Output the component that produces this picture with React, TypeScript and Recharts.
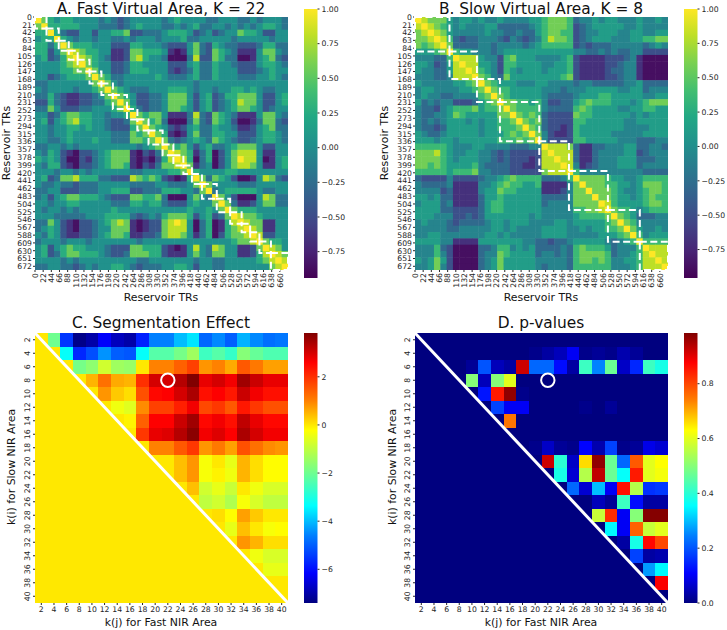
import React from "react";
import {
  ScatterChart, Scatter, XAxis, YAxis, ReferenceArea, ReferenceLine, ReferenceDot, ComposedChart, Line,
} from "recharts";

// ---------- tick labels ----------
const trTicksX22 = [0,22,44,66,88,110,132,154,176,198,220,242,264,286,308,330,352,374,396,418,440,462,484,506,528,550,572,594,616,638,660];
const trTicksY21 = [0,21,42,63,84,105,126,147,168,189,210,231,252,273,294,315,336,357,378,399,420,441,462,483,504,525,546,567,588,609,630,651,672];
const kTicks = [2,4,6,8,10,12,14,16,18,20,22,24,26,28,30,32,34,36,38,40];

// ---------- segment boundaries (TR) ----------
const fastBoundaries = [0,31,64,91,115,147,179,210,248,276,306,344,373,400,423,450,490,526,557,580,605,636,682];
const slowBoundaries = [0,93,167,229,335,415,520,606,682];

// ---------- correlation levels, upper triangle, each row starts on the diagonal ----------
const fastLevels = [-0.93,-0.85,-0.65,-0.42,-0.2,0.03,0.27,0.55,0.8,1.0];
const slowLevels = [-0.88,-0.68,-0.48,-0.28,-0.08,0.12,0.36,0.58,0.8,1.0];

const fastRows = [
"9765665555 4543455555 4565555445 5544545554",
"966666555 4443456555 4454564455 4545456654",
"96433553 5566733444 5666534534 5576653355",
"9654554 5544545554 5556445555 5455555455",
"976665 5533366555 4333574365 4433346644",
"98766 5522377666 5212574376 5422257754",
"9876 5422378655 4111483376 4411256743",
"976 5533466555 5333564465 5433356654",
"97 5533466655 5323464465 5533345655",
"9 7644555556 5444564465 5544455654",
"9754555555 5555545555 5555555555",
"976544455 5666545545 5665654455",
"97653344 5777535634 6677753356",
"9753344 5777535634 5687753356",
"964344 5776535634 5677653455",
"97677 5222484376 5422257754",
"9767 4111474376 5311247743",
"976 5323564465 5422356744",
"97 6212574466 5533356654",
"9 7434565476 5433456654",
"9767535644 5677753355",
"987624613 5788852255",
"98614613 5798851256",
"9724513 5788752256",
"965555 6655555555",
"97476 5311258743",
"9755 5544455555",
"945 6666654455",
"97 5311158744",
"9 7422357744",
"9766655555",
"987765555",
"98772255",
"9872255",
"983355",
"97665",
"9875",
"987",
"98",
"9",
];

const slowRows = [
"9877754554 5445444455 6777634454 5544454454",
"987654544 4553333345 6777623455 5554454444",
"98754444 4544334335 6776623445 5544554455",
"9863233 4443243234 6877623455 5444556677",
"973333 4434444345 6666623233 3444443454",
"96554 4434555555 5555544334 3433442222",
"9888 5442675554 4445621111 2223410000",
"988 5542665555 4455621111 2234410000",
"98 6542654555 4555621111 2334410000",
"9 7643755555 5556721111 2234410000",
"9765554445 5444434433 3334453333",
"976655555 4443444555 5544553444",
"97655555 4333345556 6555554455",
"9776656 4223356766 6555456777",
"976666 4333367655 5544556655",
"97676 3222276655 5555454555",
"9767 3222266555 5554455555",
"976 3221265555 5554444555",
"97 4211265555 5444445555",
"9 4222266555 5544433344",
"9888731133 4445533443",
"988831134 4445523444",
"98831134 4455533344",
"9841234 4455534444",
"964444 4444443333",
"97777 6554456666",
"9777 6655457776",
"977 7654456776",
"97 7655456766",
"9 8655556776",
"9766545666",
"976533344",
"97644444",
"9754454",
"964555",
"96666",
"9888",
"988",
"98",
"9",
];

// ---------- panel C: segmentation effect, rows k(i)=2,4,..; each row starts at k(j)=k(i) ----------
const effectRows = [
[0,-2,-5.5,-7.3,-7,-6.2,-6.8,-7,-5.8,-4.6,-4.6,-4,-3.6,-4.9,-4.5,-5,-4.1,-4.5,-4.8,-4.7],
[0,-3.3,-5.7,-5.2,-4.4,-5,-5.1,-3.3,-2.3,-2.3,-1.9,-1.4,-2.6,-2.3,-2.7,-1.7,-2.1,-2.4,-2.4],
[0,-1.9,-1.6,-0.8,-1.4,-1.5,0,1,1,1.4,1.8,0.8,1,0.6,1.5,1.1,0.7,0.7],
[0,0.5,1.2,0.6,0.5,2,3,3,3.3,3.8,2.8,3,2.7,3.5,3.1,2.8,2.8],
[0,0.8,0.3,0.1,1.6,2.5,2.6,3,3.4,2.4,2.6,2.3,3.1,2.7,2.4,2.4],
[0,-0.4,-0.6,0.9,1.8,1.8,2.2,2.7,1.7,1.9,1.5,2.3,1.9,1.6,1.6],
[0,-0.1,1.4,2.6,2.6,3.1,3.5,2.5,2.7,2.4,3.2,2.8,2.5,2.5],
[0,1.9,2.8,2.9,3.3,3.7,2.7,2.9,2.6,3.4,3,2.7,2.7],
[0,1,1,1.5,1.9,0.8,1.1,0.7,1.6,1.2,0.9,0.8],
[0,0,0.4,0.8,-0.3,0,-0.5,0.5,0.1,-0.2,-0.2],
[0,0.4,0.8,-0.3,-0.1,-0.4,0.5,0.1,-0.2,-0.2],
[0,0.4,-0.8,-0.5,-0.9,0,-0.4,-0.7,-0.7],
[0,-1,-0.8,-1.2,-0.3,-0.7,-1,-1],
[0,0.1,-0.2,0.7,0.3,0,0],
[0,-0.5,0.4,0,-0.3,-0.2],
[0,0.8,0.5,0.1,0.1],
[0,-0.4,-0.7,-0.7],
[0,-0.5,-0.5],
[0,0],
[0],
];

// ---------- panel D: p-values, same layout ----------
const pValueRows = [
[0,0,0,0,0,0,0,0,0,0,0,0,0,0,0,0,0,0,0,0],
[0,0,0,0,0,0,0,0,0.01,0.03,0.05,0.1,0.01,0.02,0.01,0.04,0.02,0,0],
[0,0,0.02,0.2,0.05,0.03,0.92,0.22,0.22,0.12,0.03,0.42,0.25,0.47,0.06,0.15,0.42,0.38],
[0,0.5,0.05,0.5,0.6,0,0,0,0,0,0,0,0,0,0,0,0],
[0,0.13,0.85,0.97,0.01,0,0,0,0,0,0,0,0,0,0,0],
[0,0.18,0.1,0.1,0,0,0,0,0.01,0,0.02,0,0,0,0],
[0,0.75,0,0,0,0,0,0,0,0,0,0,0,0],
[0,0,0,0,0,0,0,0,0,0,0,0,0],
[0,0.01,0.06,0.02,0.01,0.11,0.04,0.18,0.01,0.02,0.09,0.07],
[0,0.92,0.4,0.06,0.66,0.97,0.47,0.22,0.78,0.6,0.63],
[0,0.38,0.07,0.55,0.93,0.47,0.36,0.85,0.6,0.62],
[0,0.22,0.07,0.3,0.1,0.86,0.55,0.16,0.17],
[0,0,0.05,0.02,0.42,0.12,0.03,0.03],
[0,0.57,0.83,0.1,0.5,0.98,0.98],
[0,0.35,0.1,0.77,0.57,0.6],
[0,0.03,0.38,0.87,0.8],
[0,0.18,0.03,0.04],
[0,0.27,0.35],
[0,0.88],
[0],
];

// ---------- colormaps ----------
const viridisStops = ["#440154","#482475","#414487","#355f8d","#2a788e","#21918c","#22a884","#44bf70","#7ad151","#bddf26","#fde725"];
const jetStops = ["#00007f","#0000ff","#007fff","#00ffff","#7fff7f","#ffff00","#ff7f00","#ff0000","#7f0000"];
const jetOffsets = [0,0.11,0.25,0.36,0.5,0.64,0.75,0.89,1];
const viridisOffsets = viridisStops.map((_, i) => i / (viridisStops.length - 1));

const hex = (s: string) => [1, 3, 5].map((i) => parseInt(s.slice(i, i + 2), 16));
function sample(stops: string[], offsets: number[], t: number) {
  const c = Math.max(0, Math.min(1, t));
  let i = 0;
  while (i < offsets.length - 2 && c > offsets[i + 1]) i++;
  const f = (c - offsets[i]) / (offsets[i + 1] - offsets[i]);
  const a = hex(stops[i]), b = hex(stops[i + 1]);
  return `rgb(${a.map((v, k) => Math.round(v + (b[k] - v) * f)).join(",")})`;
}

// ---------- table building ----------
const TR_TOTAL = 682;
type Cell = { x: number; y: number; value: number };
function corrCells(rows: string[], levels: number[]): Cell[] {
  const n = rows.length, step = TR_TOTAL / n, out: Cell[] = [];
  rows.forEach((r, i) => {
    r.replace(/ /g, "").split("").forEach((ch, k) => {
      const j = i + k;
      if (j >= n) return;
      const value = levels[+ch];
      out.push({ x: (j + 0.5) * step, y: (i + 0.5) * step, value });
      if (j !== i) out.push({ x: (i + 0.5) * step, y: (j + 0.5) * step, value });
    });
  });
  return out;
}
function kCells(rows: number[][]): Cell[] {
  const out: Cell[] = [];
  for (let i = 0; i < 20; i++)
    for (let j = 0; j < 20; j++)
      out.push({ x: kTicks[j], y: kTicks[i], value: j >= i ? rows[i][j - i] ?? 0 : 0 });
  return out;
}

const FONT = "'DejaVu Sans', sans-serif";
const TICK = "#262626";
const PW = 253;
const PAD = 8;

const HTick = ({ x, y, payload }: any) => (
  <text x={x} y={y + 7} textAnchor="middle" fontSize={7.7} fontFamily={FONT} fill={TICK}>{payload.value}</text>
);
const VTickX = ({ x, y, payload }: any) => (
  <text transform={`rotate(-90 ${x} ${y + 1})`} x={x} y={y + 3.8} textAnchor="end" fontSize={7.7} fontFamily={FONT} fill={TICK}>{String(payload.value)}</text>
);
const HTickY = ({ x, y, payload }: any) => (
  <text x={x - 1} y={y + 2.8} textAnchor="end" fontSize={7.7} fontFamily={FONT} fill={TICK}>{String(payload.value)}</text>
);
const VTickY = ({ x, y, payload }: any) => (
  <text transform={`rotate(-90 ${x - 3} ${y})`} x={x - 3} y={y} textAnchor="middle" fontSize={7.7} fontFamily={FONT} fill={TICK}>{payload.value}</text>
);

function Heat({ left, top, height, cells, n, domain, ticksX, ticksY, xTick, yTick, colour, children, blur }: any) {
  const w = PW / n, h = height / n;
  const shape = (p: any) => (
    <rect x={p.cx - w / 2} y={p.cy - h / 2} width={w + 0.5} height={h + 0.5} fill={colour(p.payload.value)} shapeRendering={blur ? undefined : "crispEdges"} />
  );
  return (
    <div style={{ position: "absolute", left, top: top - PAD }}>
      <ScatterChart width={300} height={height + 40 + PAD} margin={{ top: PAD, right: 12, bottom: 0, left: 0 }}>
        <XAxis type="number" dataKey="x" domain={domain} ticks={ticksX} interval={0} allowDataOverflow axisLine={false} tickSize={2} tickMargin={0} height={40} tick={xTick} stroke={TICK} />
        <YAxis type="number" dataKey="y" domain={domain} ticks={ticksY} interval={0} reversed allowDataOverflow axisLine={false} tickSize={2} tickMargin={0} width={35} tick={yTick} stroke={TICK} />
        <Scatter data={cells} shape={shape} isAnimationActive={false} className={blur ? "soft" : undefined} />
        {children}
      </ScatterChart>
    </div>
  );
}

function boxes(b: number[]) {
  return b.slice(0, -1).map((s, i) => (
    <ReferenceArea key={i} x1={s} x2={b[i + 1]} y1={s} y2={b[i + 1]} fill="none" fillOpacity={0} stroke="#fff" strokeWidth={2} strokeDasharray="7 3.5" ifOverflow="visible" zIndex={1000} />
  ));
}

function ColourBar({ id, left, top, height, min, max, ticks, stops, offsets, fmt }: any) {
  return (
    <div style={{ position: "absolute", left, top: top - PAD }}>
      <ComposedChart width={70} height={height + 2 * PAD} data={[{ c: 0, v: min }, { c: 1, v: max }]} margin={{ top: PAD, right: 0, bottom: PAD, left: 0 }}>
        <defs>
          <linearGradient id={id} x1="0" y1="1" x2="0" y2="0">
            {stops.map((s: string, i: number) => <stop key={i} offset={offsets[i]} stopColor={s} />)}
          </linearGradient>
        </defs>
        <XAxis dataKey="c" type="number" domain={[0, 1]} hide />
        <YAxis orientation="right" yAxisId="r" type="number" domain={[min, max]} ticks={ticks} interval={0} allowDataOverflow width={56.5} axisLine={false} tickSize={2} tickMargin={2} tickFormatter={fmt} stroke={TICK} tick={{ fontSize: 7.7, fontFamily: FONT, fill: TICK }} />
        <Line yAxisId="r" dataKey="v" stroke="none" dot={false} isAnimationActive={false} />
        <ReferenceArea yAxisId="r" x1={0} x2={1} y1={min} y2={max} fill={`url(#${id})`} fillOpacity={1} stroke="none" ifOverflow="visible" />
      </ComposedChart>
    </div>
  );
}

const Txt = ({ x, y, size, rot, children }: any) => (
  <div style={{ position: "absolute", left: x, top: y, transform: `translate(-50%,-50%)${rot ? " rotate(-90deg)" : ""}`, fontSize: size, fontFamily: FONT, color: "#111", whiteSpace: "nowrap", lineHeight: 1.2 }}>{children}</div>
);

const vMinA = -0.94, vMinB = -0.957;
const cMin = -7.4, cMax = 3.82, dMax = 0.985;
const fastCells = corrCells(fastRows, fastLevels);
const slowCells = corrCells(slowRows, slowLevels);
const effectCells = kCells(effectRows);
const pCells = kCells(pValueRows);

const vir = (lo: number) => (v: number) => sample(viridisStops, viridisOffsets, (v - lo) / (1 - lo));
const jet = (lo: number, hi: number) => (v: number) => sample(jetStops, jetOffsets, (v - lo) / (hi - lo));
const minus = (s: string) => s.replace("-", "\u2212");

const diag = (
  <ReferenceLine segment={[{ x: 1, y: 1 }, { x: 41, y: 41 }]} stroke="#fff" strokeWidth={3} ifOverflow="visible" zIndex={1000} />
);
const ring = (
  <ReferenceDot x={22} y={8} r={6.7} fill="none" stroke="#fff" strokeWidth={2} ifOverflow="visible" zIndex={1000} />
);

export default function App() {
  return (
    <div style={{ position: "absolute", left: 0, top: 0, width: 727, height: 630, background: "#fff", overflow: "hidden" }}>
      <style>{`.soft{filter:blur(0.7px)}`}</style>
      <Txt x={161} y={9} size={15.4}>A. Fast Virtual Area, K = 22</Txt>
      <Txt x={541} y={9} size={15.4}>B. Slow Virtual Area, K = 8</Txt>
      <Txt x={161} y={323} size={15.4}>C. Segmentation Effect</Txt>
      <Txt x={541} y={323} size={15.4}>D. p-values</Txt>
      <Txt x={161} y={298} size={10.9}>Reservoir TRs</Txt>
      <Txt x={541} y={298} size={10.9}>Reservoir TRs</Txt>
      <Txt x={7} y={143} size={10.9} rot>Reservoir TRs</Txt>
      <Txt x={385} y={143} size={10.9} rot>Reservoir TRs</Txt>
      <Txt x={161} y={623} size={10.9}>k(j) for Fast NIR Area</Txt>
      <Txt x={541} y={623} size={10.9}>k(j) for Fast NIR Area</Txt>
      <Txt x={12} y={467} size={10.9} rot>k(i) for Slow NIR Area</Txt>
      <Txt x={393} y={467} size={10.9} rot>k(i) for Slow NIR Area</Txt>

      <Heat left={0} top={17} height={253} n={40} cells={fastCells} domain={[0, TR_TOTAL]} ticksX={trTicksX22} ticksY={trTicksY21} xTick={VTickX} yTick={HTickY} colour={vir(vMinA)} blur>
        {boxes(fastBoundaries)}
      </Heat>
      <Heat left={380} top={17} height={253} n={40} cells={slowCells} domain={[0, TR_TOTAL]} ticksX={trTicksX22} ticksY={trTicksY21} xTick={VTickX} yTick={HTickY} colour={vir(vMinB)} blur>
        {boxes(slowBoundaries)}
      </Heat>
      <Heat left={0} top={333} height={270} n={20} cells={effectCells} domain={[1, 41]} ticksX={kTicks} ticksY={kTicks} xTick={HTick} yTick={VTickY} colour={jet(cMin, cMax)}>
        {diag}{ring}
      </Heat>
      <Heat left={380} top={333} height={270} n={20} cells={pCells} domain={[1, 41]} ticksX={kTicks} ticksY={kTicks} xTick={HTick} yTick={VTickY} colour={jet(0, dMax)}>
        {diag}{ring}
      </Heat>

      <ColourBar id="cbA" left={304} top={9} height={269} min={vMinA} max={1} ticks={[-0.75,-0.5,-0.25,0,0.25,0.5,0.75,1]} stops={viridisStops} offsets={viridisOffsets} fmt={(v: number) => minus(v.toFixed(2))} />
      <ColourBar id="cbB" left={684} top={9} height={269} min={vMinB} max={1} ticks={[-0.75,-0.5,-0.25,0,0.25,0.5,0.75,1]} stops={viridisStops} offsets={viridisOffsets} fmt={(v: number) => minus(v.toFixed(2))} />
      <ColourBar id="cbC" left={304} top={333} height={270} min={cMin} max={cMax} ticks={[-6,-4,-2,0,2]} stops={jetStops} offsets={jetOffsets} fmt={(v: number) => minus(String(v))} />
      <ColourBar id="cbD" left={684} top={333} height={270} min={0} max={dMax} ticks={[0,0.2,0.4,0.6,0.8]} stops={jetStops} offsets={jetOffsets} fmt={(v: number) => v.toFixed(1)} />
    </div>
  );
}
